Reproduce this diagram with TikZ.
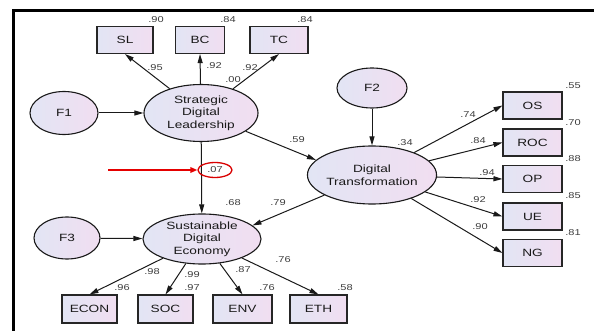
\documentclass[tikz,border=0pt]{standalone}
\usepackage{fontspec}
\newfontfamily\amosfont[FakeStretch=1.3]{Liberation Sans}
\usetikzlibrary{arrows.meta, positioning, shapes.geometric}
\definecolor{fillleft}{RGB}{226,229,244}
\definecolor{fillright}{RGB}{241,222,241}
\definecolor{numgray}{RGB}{60,60,60}

\begin{document}
\begin{tikzpicture}[
  x=1pt, y=-1pt,
  obs/.style={draw=black!85, line width=1.1pt, left color=fillleft, right color=fillright, minimum width=56pt, minimum height=27pt, inner sep=0pt, font=\amosfont\fontsize{10.5}{12}\selectfont, text=black!90},
  lat/.style={ellipse, draw=black!90, line width=1.1pt, left color=fillleft, right color=fillright, inner sep=0pt, align=center, font=\amosfont\fontsize{10.5}{12.5}\selectfont, text=black!90},
  num/.style={font=\amosfont\fontsize{8.5}{9}\selectfont, text=numgray, inner sep=0pt},
  hl/.style={ellipse, draw=red!85!black, line width=1.3pt, minimum width=34pt, minimum height=15pt, inner sep=0pt, font=\amosfont\fontsize{8.5}{9}\selectfont, text=numgray},
  arr/.style={draw=black!90, line width=1pt, -{Triangle[length=9pt,width=5pt]}},
  hlarr/.style={draw=red!90!black, line width=1.7pt, -{Triangle[length=7pt,width=5.5pt]}}
]
\useasboundingbox (0,0) rectangle (594,331);
\draw[line width=3pt] (594,10.5) -- (13,10.5) -- (13,331);

\node[obs] (sl) at (125,40) {SL};
\node[obs, minimum width=49pt] (bc) at (200,40) {BC};
\node[obs, minimum width=58pt] (tc) at (279,40) {TC};

\node[lat, minimum width=68pt, minimum height=43pt] (f1) at (64,113) {F1};
\node[lat, minimum width=114pt, minimum height=57pt] (sdl) at (201,113) {Strategic\\Digital\\Leadership};
\node[lat, minimum width=70pt, minimum height=40pt] (f2) at (372,88) {F2};
\node[lat, minimum width=118pt, minimum height=58pt] (dt) at (372,175) {Digital\\Transformation};
\node[lat, minimum width=66pt, minimum height=42pt] (f3) at (67,238) {F3};
\node[lat, minimum width=118pt, minimum height=50pt] (sde) at (202,239) {Sustainable\\Digital\\Economy};

\node[obs, minimum width=59pt] (os)  at (532.5,105.5) {OS};
\node[obs, minimum width=59pt] (roc) at (532.5,142.5) {ROC};
\node[obs, minimum width=59pt] (op)  at (532.5,179) {OP};
\node[obs, minimum width=59pt] (ue)  at (532.5,216.5) {UE};
\node[obs, minimum width=59pt] (ng)  at (532.5,253) {NG};

\node[obs, minimum width=55pt, minimum height=28pt] (econ) at (89.5,309) {ECON};
\node[obs, minimum width=55pt, minimum height=28pt] (soc)  at (165.5,309) {SOC};
\node[obs, minimum width=59pt, minimum height=28pt] (env)  at (242.5,309) {ENV};
\node[obs, minimum width=57pt, minimum height=28pt] (eth)  at (318.5,309) {ETH};

\draw[arr] (f1) -- (sdl);
\draw[arr] (sdl) -- (sl.south);
\draw[arr] (sdl) -- (bc.south);
\draw[arr] (sdl) -- (tc.south);
\draw[arr] (f2) -- (dt);
\draw[arr] (sdl) -- (dt.165);
\draw[arr] (dt) -- (sde.15);
\draw[arr] (sdl) -- (sde);
\draw[arr] (f3) -- (sde);
\draw[arr] (dt) -- (os.west);
\draw[arr] (dt) -- (roc.west);
\draw[arr] (dt) -- (op.west);
\draw[arr] (dt) -- (ue.west);
\draw[arr] (dt) -- (ng.west);
\draw[arr] (sde) -- (econ.north);
\draw[arr] (sde) -- (soc.north);
\draw[arr] (sde) -- (env.north);
\draw[arr] (sde) -- (eth.north);

\node[hl] (c07) at (215,170) {.07};
\coordinate (redtail) at (108,170);
\draw[hlarr] (redtail) -- (c07);

\node[num] (r-sl)  at (156,20) {.90};
\node[num] (r-bc)  at (228,20) {.84};
\node[num] (r-tc)  at (305,20) {.84};
\node[num] (p-sl)  at (155,68) {.95};
\node[num] (p-bc)  at (214,66) {.92};
\node[num] (p-tc)  at (250,68) {.92};
\node[num] (r-sdl) at (233,80) {.00};
\node[num] (p-dt)  at (297,140) {.59};
\node[num] (r-dt)  at (405,143) {.34};
\node[num] (p-os)  at (468,115) {.74};
\node[num] (p-roc) at (478,141) {.84};
\node[num] (p-op)  at (487,173) {.94};
\node[num] (p-ue)  at (478,200) {.92};
\node[num] (p-ng)  at (480,227) {.90};
\node[num] (r-os)  at (573,86) {.55};
\node[num] (r-roc) at (573,123) {.70};
\node[num] (r-op)  at (573,159) {.88};
\node[num] (r-ue)  at (573,196) {.85};
\node[num] (r-ng)  at (573,233) {.81};
\node[num] (r-sde) at (233,203) {.68};
\node[num] (p-sde) at (278,203) {.79};
\node[num] (p-econ) at (152,272) {.98};
\node[num] (p-soc)  at (192,275) {.99};
\node[num] (p-env)  at (243,270) {.87};
\node[num] (p-eth)  at (283,260) {.76};
\node[num] (r-econ) at (122,288) {.96};
\node[num] (r-soc)  at (192,288) {.97};
\node[num] (r-env)  at (267,288) {.76};
\node[num] (r-eth)  at (345,288) {.58};
\end{tikzpicture}
\end{document}
